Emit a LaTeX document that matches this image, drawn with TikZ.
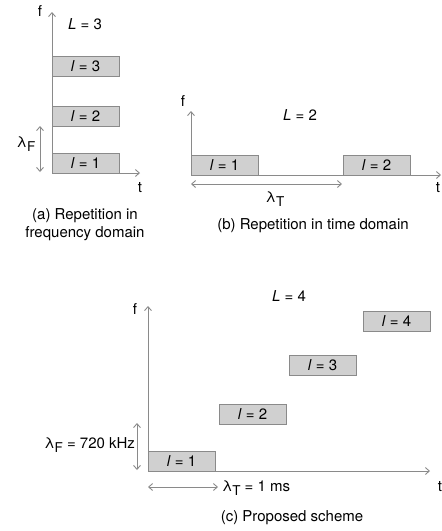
\documentclass[tikz,border=0pt]{standalone}
\usepackage{fontspec}
\setmainfont{TeX Gyre Heros}
\usetikzlibrary{arrows.meta}
\definecolor{axisgray}{HTML}{8A8A8A}
\definecolor{boxfill}{HTML}{D0D0D0}
\newcommand{\lamsub}[1]{λ\raisebox{-0.45ex}{\fontsize{13.5}{13.5}\selectfont #1}}
\begin{document}
\begin{tikzpicture}[x=1pt,y=-1pt,
  every node/.style={font=\fontsize{15}{17}\selectfont, inner sep=0pt, outer sep=0pt},
  axis/.style={draw=axisgray, line width=0.9pt, -{Straight Barb[length=4pt,width=7pt]}},
  dim/.style={draw=axisgray, line width=0.9pt, {Straight Barb[length=4pt,width=7pt]}-{Straight Barb[length=4pt,width=7pt]}},
  slot/.style={draw=axisgray, fill=boxfill, line width=0.9pt, minimum width=67pt, minimum height=20pt, anchor=south west},
  lbl/.style={text=black}]
\useasboundingbox (0,0) rectangle (442,531);
% ---------- (a) ----------
\coordinate (aO) at (52,173);
\coordinate (aF) at (52,12);
\coordinate (aT) at (140,173);
\draw[axis] (aO) -- (aF);
\draw[axis] (aO) -- (aT);
\node[slot] (a1) at (52,173) {\textit{l} = 1};
\node[slot] (a2) at (52,126) {\textit{l} = 2};
\node[slot] (a3) at (52,76) {\textit{l} = 3};
\coordinate (aD1) at (40,126);
\coordinate (aD2) at (40,172);
\draw[dim] (aD1) -- (aD2);
\node[lbl] (aLam) at (26,144) {\lamsub{F}};
\node[lbl] (af) at (40,11) {f};
\node[lbl] (at) at (140,188) {t};
\node[lbl] (aL) at (85,24) {\textit{L} = 3};
\node[lbl, align=center] (acap) at (85,225) {(a) Repetition in\\[1pt]frequency domain};
% ---------- (b) ----------
\coordinate (bO) at (191,175);
\coordinate (bF) at (191,111);
\coordinate (bT) at (441,175);
\draw[axis] (bO) -- (bF);
\draw[axis] (bO) -- (bT);
\node[slot] (b1) at (191,175) {\textit{l} = 1};
\node[slot] (b2) at (343,175) {\textit{l} = 2};
\coordinate (bD1) at (191,184);
\coordinate (bD2) at (342,184);
\draw[dim] (bD1) -- (bD2);
\node[lbl] (bLam) at (275,199) {\lamsub{T}};
\node[lbl] (bf) at (183,101) {f};
\node[lbl] (bt) at (438,188) {t};
\node[lbl] (bL) at (300,115) {\textit{L} = 2};
\node[lbl] (bcap) at (313,226) {(b) Repetition in time domain};
% ---------- (c) ----------
\coordinate (cO) at (148,471);
\coordinate (cF) at (148,306);
\coordinate (cT) at (430,471);
\draw[axis] (cO) -- (cF);
\draw[axis] (cO) -- (cT);
\node[slot] (c1) at (148,471) {\textit{l} = 1};
\node[slot] (c2) at (219,424) {\textit{l} = 2};
\node[slot] (c3) at (289,375) {\textit{l} = 3};
\node[slot] (c4) at (363,331) {\textit{l} = 4};
\coordinate (cD1) at (137,423);
\coordinate (cD2) at (137,470);
\draw[dim] (cD1) -- (cD2);
\coordinate (cE1) at (148,487);
\coordinate (cE2) at (218,487);
\draw[dim] (cE1) -- (cE2);
\node[lbl, anchor=east] (cLam) at (135,445) {\lamsub{F} = 720 kHz};
\node[lbl, anchor=west] (cLamT) at (222,488) {\lamsub{T} = 1 ms};
\node[lbl] (cf) at (135,309) {f};
\node[lbl] (ct) at (440,487) {t};
\node[lbl] (cL) at (289,296) {\textit{L} = 4};
\node[lbl] (ccap) at (292,518) {(c) Proposed scheme};
\end{tikzpicture}
\end{document}
